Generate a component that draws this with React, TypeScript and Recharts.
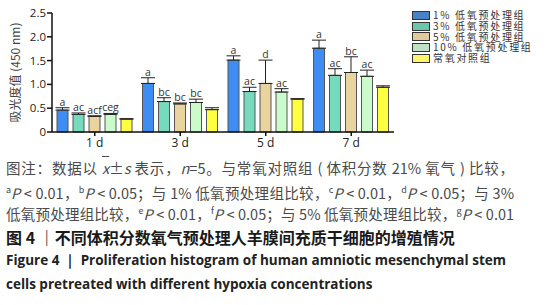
import React from "react"
import { Bar, BarChart, XAxis, YAxis, ErrorBar, LabelList } from "recharts"

const categories = ["1 d", "3 d", "5 d", "7 d"]

const names = ["1% 低氧预处理组", "3% 低氧预处理组", "5% 低氧预处理组", "10% 低氧预处理组", "常氧对照组"]
const fills = ["#3f8df3", "#76dbbd", "#e9d39e", "#cbfbcb", "#ffff40"]
const legendFills = ["#4a80c6", "#6cc5ad", "#e2c99c", "#c1e1c7", "#fff56a"]

const g1 = [0.46, 1.02, 1.51, 1.76]
const g3 = [0.37, 0.64, 0.85, 1.19]
const g5 = [0.33, 0.59, 1.02, 1.25]
const g10 = [0.37, 0.62, 0.84, 1.17]
const ctrl = [0.27, 0.47, 0.69, 0.94]

const e1 = [0.05, 0.12, 0.09, 0.17]
const e3 = [0.03, 0.08, 0.09, 0.14]
const e5 = [0.01, 0.02, 0.49, 0.33]
const e10 = [0.02, 0.07, 0.07, 0.13]
const ectrl = [0.01, 0.04, 0.01, 0.03]

const l1 = ["a", "a", "a", "a"]
const l3 = ["ac", "bc", "ac", "ac"]
const l5 = ["acf", "bc", "d", "bc"]
const l10 = ["ceg", "bc", "ac", "ac"]
const lctrl = ["", "", "", ""]

const yTicks = [0, 0.5, 1.0, 1.5, 2.0, 2.5]

const series = [g1, g3, g5, g10, ctrl]
const errors = [e1, e3, e5, e10, ectrl]
const labels = [l1, l3, l5, l10, lctrl]

const data = categories.map((c, i) => {
  const row: any = { name: c }
  series.forEach((s, k) => {
    row["v" + k] = s[i]
    row["e" + k] = errors[k][i]
    row["err" + k] = [0, errors[k][i]]
    row["l" + k] = labels[k][i]
  })
  return row
})

const cjk = '"Noto Sans CJK SC", "Open Sans", sans-serif'
const latin = '"Open Sans", sans-serif'

export default function App() {
  return (
    <div style={{ position: "absolute", left: 0, top: 0, width: 546, height: 305, background: "#fff", fontFamily: cjk }}>
      <BarChart
        width={546}
        height={160}
        data={data}
        margin={{ top: 13, right: 152, bottom: 0, left: 0 }}
        barCategoryGap={5}
        barGap={5}
      >
        <XAxis
          dataKey="name"
          stroke="#111"
          strokeWidth={1.5}
          tickSize={4}
          height={28}
          tick={{ fill: "#222", fontSize: 12, fontFamily: latin }}
        />
        <YAxis
          domain={[0, 2.5]}
          ticks={yTicks}
          width={52}
          stroke="#111"
          strokeWidth={1.5}
          tickSize={5}
          tickMargin={1}
          tickFormatter={(v) => (v === 0 ? "0" : v.toFixed(1))}
          tick={{ fill: "#222", fontSize: 11.5, fontFamily: latin }}
          label={{
            value: "吸光度值 (450 nm)",
            angle: -90,
            position: "insideLeft",
            offset: 16,
            style: { textAnchor: "middle", fill: "#444", fontSize: 12, fontFamily: cjk },
          }}
        />
        {series.map((_, k) => [
          <Bar key={"b" + k} dataKey={"v" + k} stackId={"s" + k} fill={fills[k]} stroke="#555" strokeWidth={1} isAnimationActive={false}>
            <ErrorBar dataKey={"err" + k} width={7} stroke="#222" strokeWidth={1} direction="y" />
          </Bar>,
          <Bar key={"t" + k} dataKey={"e" + k} stackId={"s" + k} fill="transparent" isAnimationActive={false}>
            <LabelList dataKey={"l" + k} position="top" offset={2} style={{ fill: "#333", fontSize: 10.5, fontFamily: latin }} />
          </Bar>,
        ])}
      </BarChart>

      <div style={{ position: "absolute", left: 412, top: 10 }}>
        {names.map((n, k) => (
          <div key={n} style={{ display: "flex", alignItems: "center", height: 10.8 }}>
            <span style={{ display: "inline-block", width: 16, height: 7, border: "1px solid #333", background: legendFills[k], marginRight: 3 }} />
            <span style={{ fontSize: 10, letterSpacing: 1.7, color: "#333", whiteSpace: "nowrap", lineHeight: "10.8px" }}>{n}</span>
          </div>
        ))}
      </div>

      <div style={{ position: "absolute", left: 6, top: 157, width: 508, color: "#4a4a4a", fontSize: 14.5 }}>
        <div style={{ height: 21.7, lineHeight: "21.7px", textAlignLast: "justify", whiteSpace: "nowrap" }}>
          图注：数据以 <span style={{ textDecoration: "overline", fontStyle: "italic" }}>x</span>±<i>s</i> 表示，<i>n</i>=5。与常氧对照组 ( 体积分数 21% 氧气 ) 比较，
        </div>
        <div style={{ height: 21.7, lineHeight: "21.7px", textAlignLast: "justify", whiteSpace: "nowrap" }}>
          <sup style={{ fontSize: 9 }}>a</sup><i>P</i> &lt; 0.01，<sup style={{ fontSize: 9 }}>b</sup><i>P</i> &lt; 0.05；与 1% 低氧预处理组比较，<sup style={{ fontSize: 9 }}>c</sup><i>P</i> &lt; 0.01，<sup style={{ fontSize: 9 }}>d</sup><i>P</i> &lt; 0.05；与 3%
        </div>
        <div style={{ height: 21.7, lineHeight: "21.7px", textAlignLast: "justify", whiteSpace: "nowrap" }}>
          低氧预处理组比较，<sup style={{ fontSize: 9 }}>e</sup><i>P</i> &lt; 0.01，<sup style={{ fontSize: 9 }}>f</sup><i>P</i> &lt; 0.05；与 5% 低氧预处理组比较，<sup style={{ fontSize: 9 }}>g</sup><i>P</i> &lt; 0.01
        </div>
        <div style={{ marginTop: 4, height: 23, lineHeight: "23px", color: "#1a1a1a", fontWeight: 700, fontSize: 16, whiteSpace: "nowrap" }}>
          图 4 ｜不同体积分数氧气预处理人羊膜间充质干细胞的增殖情况
        </div>
        <div style={{ height: 23.5, lineHeight: "23.5px", color: "#222", fontWeight: 700, fontSize: 13.5, fontFamily: latin, textAlignLast: "justify", width: 500, whiteSpace: "nowrap" }}>
          Figure 4 ｜ Proliferation histogram of human amniotic mesenchymal stem
        </div>
        <div style={{ height: 23.5, lineHeight: "23.5px", color: "#222", fontWeight: 700, fontSize: 13.5, fontFamily: latin, whiteSpace: "nowrap" }}>
          cells pretreated with different hypoxia concentrations
        </div>
      </div>
    </div>
  )
}
